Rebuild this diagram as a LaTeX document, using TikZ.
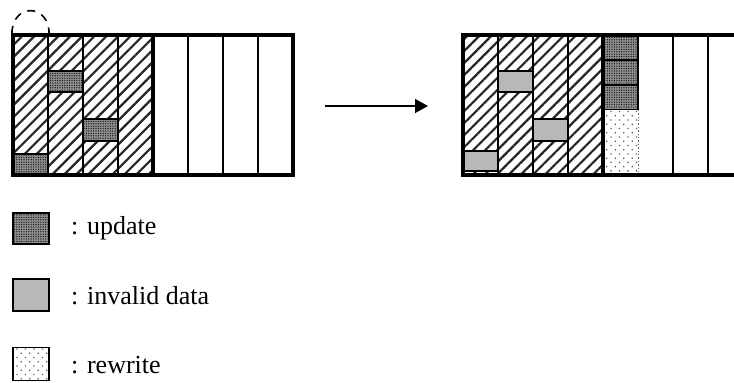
\documentclass[tikz,border=0pt]{standalone}
\usepackage{fontspec}
\setmainfont{Liberation Serif}
\usetikzlibrary{patterns.meta,arrows.meta}

\tikzset{
  col/.style={draw, line width=1.6pt, inner sep=0pt, minimum width=35pt, minimum height=140pt},
  hatch/.style={pattern color=black!85, pattern={Lines[angle=45,distance=8.5pt,line width=2.2pt]}},
  frame/.style={draw, line width=4.5pt, inner sep=0pt, minimum width=280pt, minimum height=140pt},
  blk/.style={draw, line width=2pt, inner sep=0pt, minimum width=35pt},
  upd/.style={blk, fill=black!45, postaction={pattern color=black, pattern={Dots[distance=2.4pt,radius=0.6pt]}}},
  inv/.style={blk, fill=black!28},
  rew/.style={inner sep=0pt, minimum width=36pt, fill=white, postaction={pattern color=black!65, pattern={Dots[angle=45,distance=6pt,radius=0.9pt]}}},
  lbl/.style={anchor=base west, inner sep=0pt, font=\fontsize{26}{30}\selectfont},
}

\begin{document}
\begin{tikzpicture}[x=1pt, y=-1pt]
    \useasboundingbox (0,0) rectangle (734,383);
    \clip (0,0) rectangle (734,383);

    % two blocks, four used columns and four free ones each
    \foreach \b/\xo in {l/13, r/463} {
        \foreach \c in {0,...,3}
            \node[col, hatch] (\b c\c) at ({\xo+17.5+35*\c},105) {};
        \foreach \c in {4,...,7}
            \node[col] (\b c\c) at ({\xo+17.5+35*\c},105) {};
    }

    % before
    \foreach \n/\x/\y/\h in {lu1/65.5/81.5/21, lu2/100.5/130/22, lu3/30.5/164.5/21}
        \node[upd, minimum height=\h pt] (\n) at (\x,\y) {};

    % after
    \foreach \n/\x/\y/\h in {ri1/515.5/81.5/21, ri2/550.5/130/22, ri3/480.5/161/20}
        \node[inv, minimum height=\h pt] (\n) at (\x,\y) {};
    \foreach \n/\y in {ru1/47.5, ru2/72.5, ru3/97.5}
        \node[upd, minimum height=25pt] (\n) at (620.5,\y) {};
    \node[rew, minimum height=65pt] (rw) at (620.5,142.5) {};
    \draw[black!60, line width=1.4pt, dotted] (rw.north east) -- (rw.south east);

    \node[frame] (lframe) at (153,105) {};
    \draw[line width=4.5pt] (lframe.north) -- (lframe.south);
    \node[frame] (rframe) at (603,105) {};
    \draw[line width=4.5pt] (rframe.north) -- (rframe.south);

    \draw[line width=1.6pt, dash pattern=on 8pt off 7pt]
        (lc0.north west) .. controls +(0,-31) and +(0,-31) .. (lc0.north east);

    \coordinate (go) at (325,106);
    \coordinate (gone) at (428,106);
    \draw[-{Triangle[length=13pt,width=14pt]}, line width=1.4pt] (go) -- (gone);

    % legend
    \node[upd, minimum width=36pt, minimum height=31pt] (keyupd) at (31,228) {};
    \node[lbl] (txtupd) at (71,234) {: update};
    \node[inv, minimum width=36pt, minimum height=32pt] (keyinv) at (31,294.5) {};
    \node[lbl] (txtinv) at (71,304) {: invalid data};
    \node[rew, draw, line width=1.2pt, minimum height=33pt] (keyrew) at (31,364) {};
    \node[lbl] (txtrew) at (71,373) {: rewrite};
\end{tikzpicture}
\end{document}
